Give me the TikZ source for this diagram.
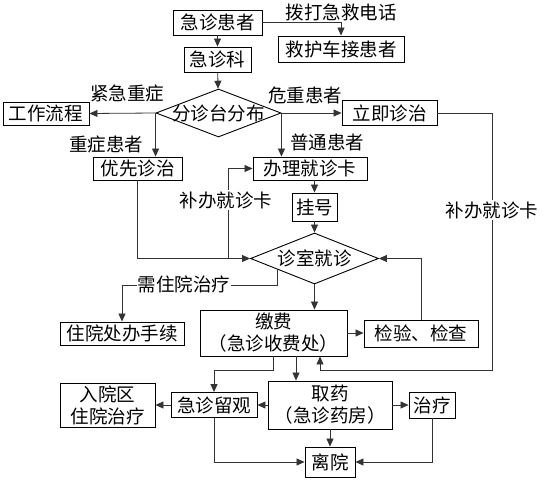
\documentclass[tikz,border=0pt]{standalone}
\usepackage{fontspec}
\setmainfont{Noto Sans CJK SC}
\usetikzlibrary{arrows.meta,shapes.geometric,calc}

\begin{document}
\begin{tikzpicture}[x=1pt,y=-1pt,
  font=\fontsize{18.5}{22}\selectfont,
  box/.style={draw, line width=0.9pt, inner sep=0pt, align=center},
  choice/.style={draw, diamond, line width=0.9pt, inner sep=0pt},
  lbl/.style={inner sep=1pt},
  link/.style={draw=black!80, line width=0.8pt, -{Triangle[length=8pt,width=7pt]}}]
\useasboundingbox (0,0) rectangle (554,481);

\node[box, minimum width=89pt, minimum height=25pt] (patient) at (217.5,22.5) {急诊患者};
\node[box, minimum width=126pt, minimum height=26pt] (ambulance) at (341,49) {救护车接患者};
\node[box, minimum width=67pt, minimum height=25pt] (dept) at (217.5,59.5) {急诊科};
\node[choice, minimum width=125pt, minimum height=48pt] (triage) at (218.5,113) {\makebox[0pt]{分诊台分布}};
\node[box, minimum width=86pt, minimum height=23pt] (workflow) at (46,113.5) {工作流程};
\node[box, minimum width=95pt, minimum height=25pt] (immediate) at (389.5,113) {立即诊治};
\node[box, minimum width=89pt, minimum height=23pt] (priority) at (137.5,168.5) {优先诊治};
\node[box, minimum width=114pt, minimum height=23pt] (card) at (310,168.5) {办理就诊卡};
\node[box, minimum width=45pt, minimum height=28pt] (register) at (314.5,207) {挂号};
\node[choice, minimum width=128pt, minimum height=51pt] (clinic) at (314.5,258.5) {\makebox[0pt]{诊室就诊}};
\node[box, minimum width=147pt, minimum height=46pt] (pay) at (273.5,333) {缴费\\（急诊收费处）};
\node[box, minimum width=114pt, minimum height=27pt] (lab) at (421,333.5) {检验、检查};
\node[box, minimum width=124pt, minimum height=23pt] (admit) at (122,333.5) {住院处办手续};
\node[box, minimum width=86pt, minimum height=25pt] (observe) at (214,405) {急诊留观};
\node[box, minimum width=124pt, minimum height=48pt] (pharmacy) at (330,405) {取药\\（急诊药房）};
\node[box, minimum width=46pt, minimum height=26pt] (treat) at (432,405) {治疗};
\node[box, minimum width=95pt, minimum height=44pt] (ward) at (107.5,405) {入院区\\住院治疗};
\node[box, minimum width=50pt, minimum height=30pt] (leave) at (330,462) {离院};

\coordinate (cardjoin) at (228,258.5);
\coordinate (rcorner) at (492,370);
\coordinate (hospturn) at (122,285);
\coordinate (paysplit) at (273.5,370);

\draw[link] (patient) -- (dept);
\draw[link] (patient.east) -| (ambulance.north);
\draw[link] (dept) -- (triage);
\draw[link] (triage.west) -- (workflow.east);
\draw[link] (triage.west) -- (triage.west |- priority.north);
\draw[link] (triage.east) -- (immediate.west);
\draw[link] (triage.east) -- (triage.east |- card.north);
\draw[link] (immediate.east) -| (rcorner) -| ([xshift=46.5pt]pay.south);
\draw[link] (register.north |- card.south) -- (register.north);
\draw[link] (register) -- (clinic);
\draw[link] (priority.south) |- (clinic.west);
\draw[link] (cardjoin) |- (card.west);
\draw[link] (clinic.south) -- (clinic.south |- pay.north);
\draw[link] (pay.east) -- (pay.east -| lab.west);
\draw[link] (lab.north) |- (clinic.east);
\draw[link] ($(clinic.west)!0.42!(clinic.south)$) |- (hospturn) -- (admit.north);
\draw[link] (pay.south) -- (paysplit) -| (observe.north);
\draw[link] ([xshift=22.5pt]pay.south) -- ([xshift=22.5pt]pay.south |- pharmacy.north);
\draw[link] (pharmacy.west) -- (observe.east);
\draw[link] (observe.west) -- (ward.east);
\draw[link] (pharmacy.east) -- (treat.west);
\draw[link] (pharmacy.south) -- (leave.north);
\draw[link] (observe.south) |- (leave.west);
\draw[link] (treat.south) |- (leave.east);

\node[lbl] (dial) at (341,12) {拨打急救电话};
\node[lbl] (urgent) at (127,93) {紧急重症};
\node[lbl] (critical) at (305,95) {危重患者};
\node[lbl] (severe) at (106,144) {重症患者};
\node[lbl] (normal) at (327,142) {普通患者};
\node[lbl, fill=white] (makeup) at (226,200) {补办就诊卡};
\node[lbl, fill=white] (makeupright) at (492,210) {补办就诊卡};
\node[lbl, fill=white] (inhosp) at (184,284) {需住院治疗};
\end{tikzpicture}
\end{document}
